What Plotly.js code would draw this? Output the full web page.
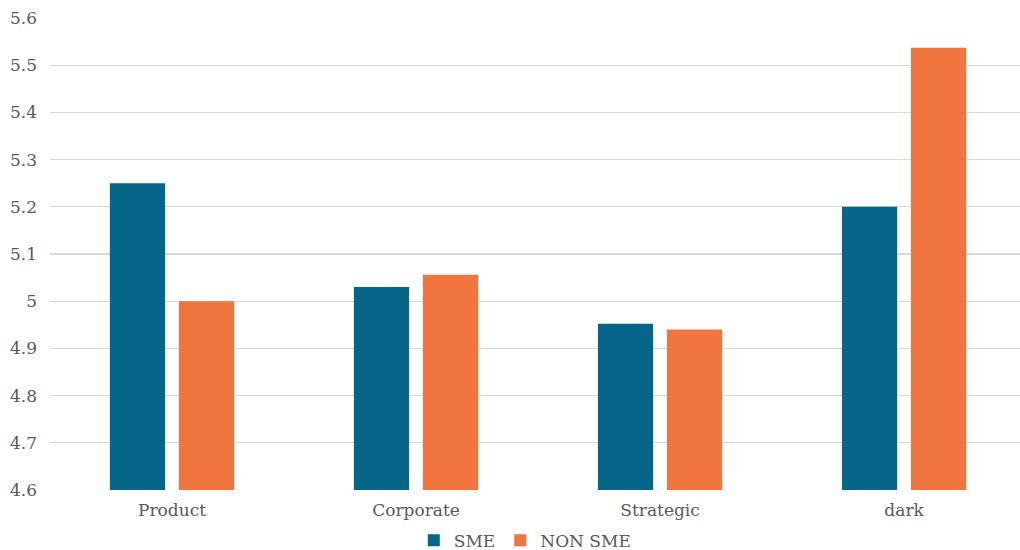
<!DOCTYPE html>
<html>
<head>
<meta charset="utf-8">
<script src="https://cdn.plot.ly/plotly-3.0.1.min.js"></script>
<style>
  html, body { margin: 0; padding: 0; background: #ffffff; }
  #chart { width: 1020px; height: 550px; }
</style>
</head>
<body>
<div id="chart"></div>
<script>
// Categories and mean scores for the two company groups
const categories = ["Product", "Corporate", "Strategic", "dark"];
const smeValues = [5.25, 5.03, 4.952, 5.20];
const nonSmeValues = [5.0, 5.056, 4.94, 5.537];
const yTicks = [4.6, 4.7, 4.8, 4.9, 5, 5.1, 5.2, 5.3, 5.4, 5.5, 5.6];
const yTickText = ["4.6", "4.7", "4.8", "4.9", "5", "5.1", "5.2", "5.3", "5.4", "5.5", "5.6"];
const axisFloor = 4.6;

const fontFamily = "'DejaVu Serif', 'Liberation Serif', serif";
const textColor = "#595959";

// bars rise from the axis floor, so each height is measured above it
const traces = [
  {
    type: "bar",
    name: "SME",
    x: categories,
    y: smeValues.map(v => v - axisFloor),
    base: axisFloor,
    marker: { color: "#066689" }
  },
  {
    type: "bar",
    name: "NON SME",
    x: categories,
    y: nonSmeValues.map(v => v - axisFloor),
    base: axisFloor,
    marker: { color: "#F1753F" }
  }
];

const layout = {
  width: 1020,
  height: 550,
  margin: { l: 50, r: 0, t: 18, b: 60 },
  paper_bgcolor: "#ffffff",
  plot_bgcolor: "#ffffff",
  barmode: "group",
  bargap: 0.434,
  bargroupgap: 0.2,
  font: { family: fontFamily, size: 17, color: textColor },
  showlegend: true,
  legend: {
    orientation: "h",
    x: 0.515, xanchor: "center", xref: "container",
    y: 0.017, yanchor: "middle", yref: "container",
    bgcolor: "rgba(0,0,0,0)",
    font: { family: fontFamily, size: 17, color: textColor },
    itemwidth: 30,
    tracegroupgap: 0,
    traceorder: "normal"
  },
  xaxis: {
    type: "category",
    range: [-0.5, 3.475],
    showgrid: false,
    showline: false,
    zeroline: false,
    ticks: "",
    ticklabelstandoff: 8,
    tickfont: { family: fontFamily, size: 17, color: textColor },
    fixedrange: true
  },
  yaxis: {
    range: [4.6, 5.6],
    tickmode: "array",
    tickvals: yTicks,
    ticktext: yTickText,
    showgrid: true,
    gridcolor: "#d9d9d9",
    gridwidth: 1.3,
    zeroline: false,
    showline: false,
    ticks: "",
    ticklabelstandoff: 12,
    tickfont: { family: fontFamily, size: 17, color: textColor },
    fixedrange: true
  }
};

Plotly.newPlot("chart", traces, layout, { displayModeBar: false, staticPlot: true });
</script>
</body>
</html>
